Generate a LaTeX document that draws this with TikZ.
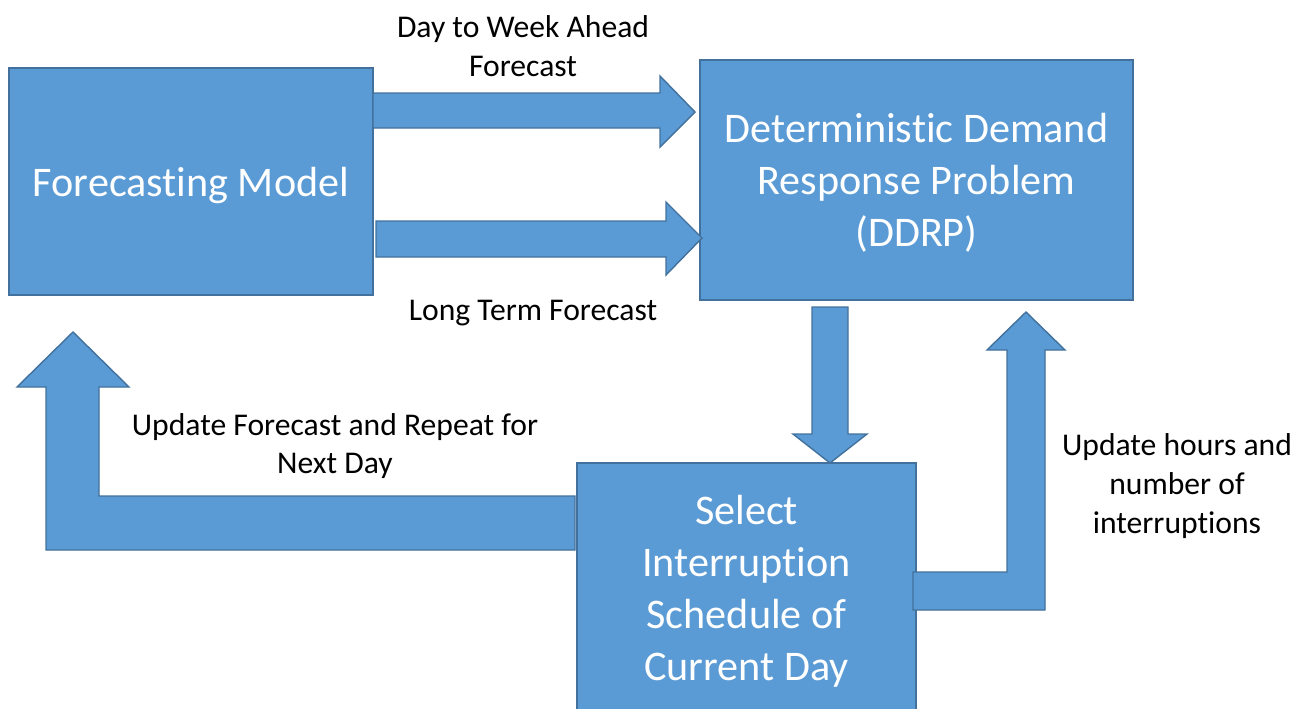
\documentclass[tikz,border=0pt]{standalone}
\usepackage{fontspec}
\setmainfont[Ligatures={NoCommon}]{Carlito}
\definecolor{boxfill}{HTML}{5B9BD5}
\definecolor{boxline}{HTML}{41719C}

\begin{document}
\begin{tikzpicture}[x=0.02cm,y=-0.02cm,
    block/.style = {draw=boxline, fill=boxfill, line width=0.8pt, inner sep=0pt, text depth=0pt,
                    align=center, text=white, font=\fontsize{24}{29.5}\selectfont},
    lbl/.style = {align=center, inner sep=0pt, font=\fontsize{18}{22}\selectfont},
    barrow/.style = {draw=boxline, fill=boxfill, line width=0.8pt, line join=miter}]
				\useasboundingbox (0,0) rectangle (1311,708);
				\clip (0,0) rectangle (1311,708);
				\begin{scope}
					\node[block, minimum width=7.28cm, minimum height=4.54cm] (fm) at (191,181.5) {Forecasting Model};
					\node[block, minimum width=8.66cm, minimum height=4.8cm] (ddrp) at (916.5,180) {Deterministic Demand\\Response Problem\\(DDRP)};
					\node[block, minimum width=6.78cm, minimum height=5.0cm] (sel) at (746.5,588) {Select\\Interruption\\Schedule of\\Current Day};
				\end{scope}
				% block arrows
				\draw[barrow] (373,93) -- (660,93) -- (660,76) -- (695,112) -- (660,147) -- (660,128) -- (373,128) -- cycle;
				\draw[barrow] (376,221) -- (666,221) -- (666,202) -- (702,238) -- (666,275) -- (666,257) -- (376,257) -- cycle;
				\draw[barrow] (812,307) -- (848,307) -- (848,434) -- (867,434) -- (830,463) -- (793,434) -- (812,434) -- cycle;
				\draw[barrow] (913,572) -- (1007,572) -- (1007,350) -- (987,350) -- (1026,312) -- (1065,350) -- (1045,350) -- (1045,610) -- (913,610) -- cycle;
				\draw[barrow] (575,496) -- (99,496) -- (99,387) -- (129,387) -- (73,332) -- (17,387) -- (46,387) -- (46,550) -- (575,550) -- cycle;
				% labels
				\node[lbl] (daylbl) at (523,46) {Day to Week Ahead\\Forecast};
				\node[lbl] (longlbl) at (533,313) {Long Term Forecast};
				\node[lbl] (updlbl) at (335,446) {Update Forecast and Repeat for\\Next Day};
				\node[lbl] (hrslbl) at (1177,486) {Update hours and\\number of\\interruptions};
			\end{tikzpicture}
\end{document}
